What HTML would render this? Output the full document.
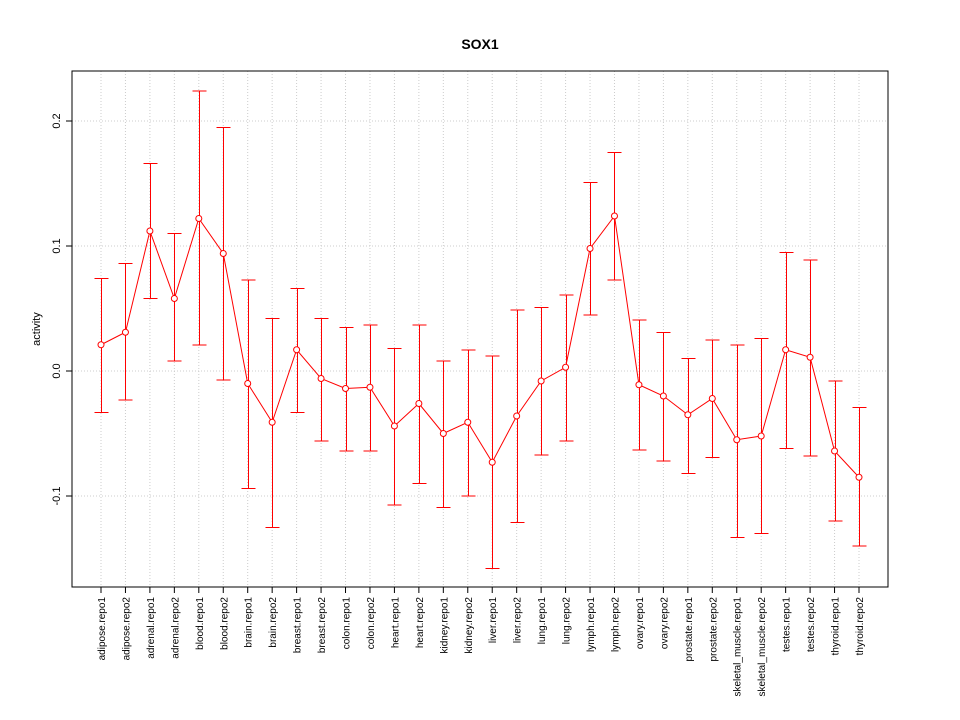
<!DOCTYPE html>
<html><head><meta charset="utf-8"><style>
body{margin:0;background:#fff;}
svg{display:block;font-family:"Liberation Sans",Arial,sans-serif;}
</style></head><body>
<svg id="chart" width="960" height="720"></svg>
<script>
const categories=["adipose.repo1","adipose.repo2","adrenal.repo1","adrenal.repo2","blood.repo1","blood.repo2","brain.repo1","brain.repo2","breast.repo1","breast.repo2","colon.repo1","colon.repo2","heart.repo1","heart.repo2","kidney.repo1","kidney.repo2","liver.repo1","liver.repo2","lung.repo1","lung.repo2","lymph.repo1","lymph.repo2","ovary.repo1","ovary.repo2","prostate.repo1","prostate.repo2","skeletal_muscle.repo1","skeletal_muscle.repo2","testes.repo1","testes.repo2","thyroid.repo1","thyroid.repo2"];
const values=[0.021,0.031,0.112,0.058,0.122,0.094,-0.010,-0.041,0.017,-0.006,-0.014,-0.013,-0.044,-0.026,-0.050,-0.041,-0.073,-0.036,-0.008,0.003,0.098,0.124,-0.011,-0.020,-0.035,-0.022,-0.055,-0.052,0.017,0.011,-0.064,-0.085];
const upper=[0.074,0.086,0.166,0.110,0.224,0.195,0.073,0.042,0.066,0.042,0.035,0.037,0.018,0.037,0.008,0.017,0.012,0.049,0.051,0.061,0.151,0.175,0.041,0.031,0.010,0.025,0.021,0.026,0.095,0.089,-0.008,-0.029];
const lower=[-0.033,-0.023,0.058,0.008,0.021,-0.007,-0.094,-0.125,-0.033,-0.056,-0.064,-0.064,-0.107,-0.090,-0.109,-0.100,-0.158,-0.121,-0.067,-0.056,0.045,0.073,-0.063,-0.072,-0.082,-0.069,-0.133,-0.130,-0.062,-0.068,-0.120,-0.140];
const yTicks=[-0.1,0.0,0.1,0.2];
const yTickLabels=["-0.1","0.0","0.1","0.2"];

const svg=document.getElementById('chart');
const NS='http://www.w3.org/2000/svg';
const L=72,R=888,T=71,B=587;
const x0=101,x1=859;
function xs(i){return x0+(x1-x0)*i/(categories.length-1);}
function ys(v){return 371-v*1250;}
function mk(tag,attrs,parent){const e=document.createElementNS(NS,tag);for(const k in attrs)e.setAttribute(k,attrs[k]);(parent||svg).appendChild(e);return e;}

const grid=mk('g',{});


categories.forEach((c,i)=>{const l=mk('line',{x1:xs(i),x2:xs(i),y1:T,y2:B,stroke:'#ccc','stroke-dasharray':'1,2'},grid);});
yTicks.forEach(v=>{const l=mk('line',{x1:L,x2:R,y1:ys(v),y2:ys(v),stroke:'#ccc','stroke-dasharray':'1,2'},grid);});

const frame=mk('rect',{x:L,y:T,width:R-L,height:B-T,fill:'none',stroke:'#000'});



const title=mk('text',{x:480,y:49,'text-anchor':'middle','font-size':14,'font-weight':'bold'});
title.textContent='SOX1';



const yt=mk('text',{x:0,y:0,transform:'translate(40,329) rotate(-90)','text-anchor':'middle','font-size':11});
yt.textContent='activity';



const yax=mk('g',{});


yTicks.forEach((v,i)=>{
  mk('line',{x1:L-6,x2:L,y1:ys(v),y2:ys(v),stroke:'#000'},yax);
  const t=mk('text',{x:0,y:0,transform:`translate(${L-12},${ys(v)}) rotate(-90)`,'text-anchor':'middle','font-size':11},yax);
  t.textContent=yTickLabels[i];
  
  
});

const xax=mk('g',{});


mk('line',{x1:xs(0),x2:xs(categories.length-1),y1:B,y2:B,stroke:'#000'},xax);
categories.forEach((c,i)=>{
  mk('line',{x1:xs(i),x2:xs(i),y1:B,y2:B+6,stroke:'#000'},xax);
  const t=mk('text',{x:0,y:0,transform:`translate(${xs(i)+4},${B+10}) rotate(-90)`,'text-anchor':'end','font-size':10},xax);
  t.textContent=c;
  
  
});

const series=mk('g',{});


categories.forEach((c,i)=>{
  const g=mk('g',{'shape-rendering':'crispEdges'},series);
  
  
  const x=Math.round(xs(i))+0.5;
  mk('line',{x1:x,x2:x,y1:ys(upper[i]),y2:ys(lower[i]),stroke:'#f00','stroke-width':1},g);
  mk('line',{x1:x-7,x2:x+7,y1:ys(upper[i]),y2:ys(upper[i]),stroke:'#f00','stroke-width':1},g);
  mk('line',{x1:x-7,x2:x+7,y1:ys(lower[i]),y2:ys(lower[i]),stroke:'#f00','stroke-width':1},g);
});
const pl=mk('polyline',{points:values.map((v,i)=>xs(i)+','+ys(v)).join(' '),fill:'none',stroke:'#f00','stroke-width':1},series);


values.forEach((v,i)=>{
  const c=mk('circle',{cx:xs(i),cy:ys(v),r:3,fill:'#fff',stroke:'#f00','stroke-width':1},series);
  
  
});
</script>
</body></html>
